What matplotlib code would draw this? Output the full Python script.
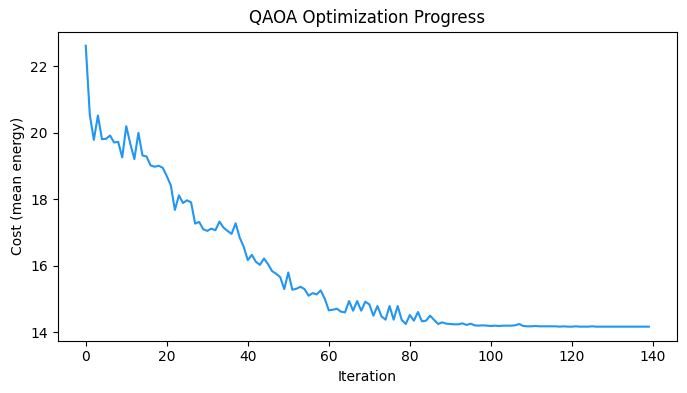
import matplotlib
matplotlib.use("Agg")
import matplotlib.pyplot as plt

iterations = list(range(140))
cost = [
    22.62, 20.54, 19.79, 20.52, 19.81, 19.82, 19.92, 19.71, 19.73, 19.26,
    20.20, 19.67, 19.21, 20.00, 19.32, 19.29, 19.02, 18.98, 19.01, 18.95,
    18.70, 18.42, 17.68, 18.12, 17.89, 17.97, 17.91, 17.27, 17.32, 17.10,
    17.05, 17.12, 17.07, 17.33, 17.15, 17.05, 16.96, 17.28, 16.85, 16.57,
    16.17, 16.33, 16.12, 16.03, 16.22, 16.05, 15.84, 15.76, 15.66, 15.30,
    15.80, 15.28, 15.31, 15.37, 15.30, 15.10, 15.18, 15.14, 15.26, 15.01,
    14.66, 14.68, 14.71, 14.62, 14.60, 14.94, 14.65, 14.94, 14.65, 14.92,
    14.84, 14.50, 14.79, 14.48, 14.38, 14.79, 14.38, 14.79, 14.37, 14.25,
    14.52, 14.35, 14.61, 14.33, 14.35, 14.50, 14.37, 14.25, 14.30, 14.26,
    14.25, 14.24, 14.24, 14.27, 14.22, 14.26, 14.21, 14.20, 14.21, 14.20,
    14.19, 14.20, 14.19, 14.20, 14.20, 14.20, 14.21, 14.25, 14.19, 14.18,
    14.18, 14.19, 14.18, 14.18, 14.18, 14.18, 14.18, 14.17, 14.18, 14.17,
    14.17, 14.18, 14.17, 14.17, 14.17, 14.18, 14.17, 14.17, 14.17, 14.17,
    14.17, 14.17, 14.17, 14.17, 14.17, 14.17, 14.17, 14.17, 14.17, 14.17,
]

W, H = 687, 393
fig = plt.figure(figsize=(W / 100, H / 100), dpi=100)
ax = fig.add_axes([57.6 / W, (H - 340.7) / H, (677.0 - 57.6) / W, (340.7 - 31.7) / H])
ax.plot(iterations, cost, color="#2196F3", linewidth=1.5)
ax.set_title("QAOA Optimization Progress", fontsize=12)
ax.set_xlabel("Iteration")
ax.set_ylabel("Cost (mean energy)")
ax.set_xticks([0, 20, 40, 60, 80, 100, 120, 140])
ax.set_yticks([14, 16, 18, 20, 22])
fig.savefig("out.png", dpi=100)
